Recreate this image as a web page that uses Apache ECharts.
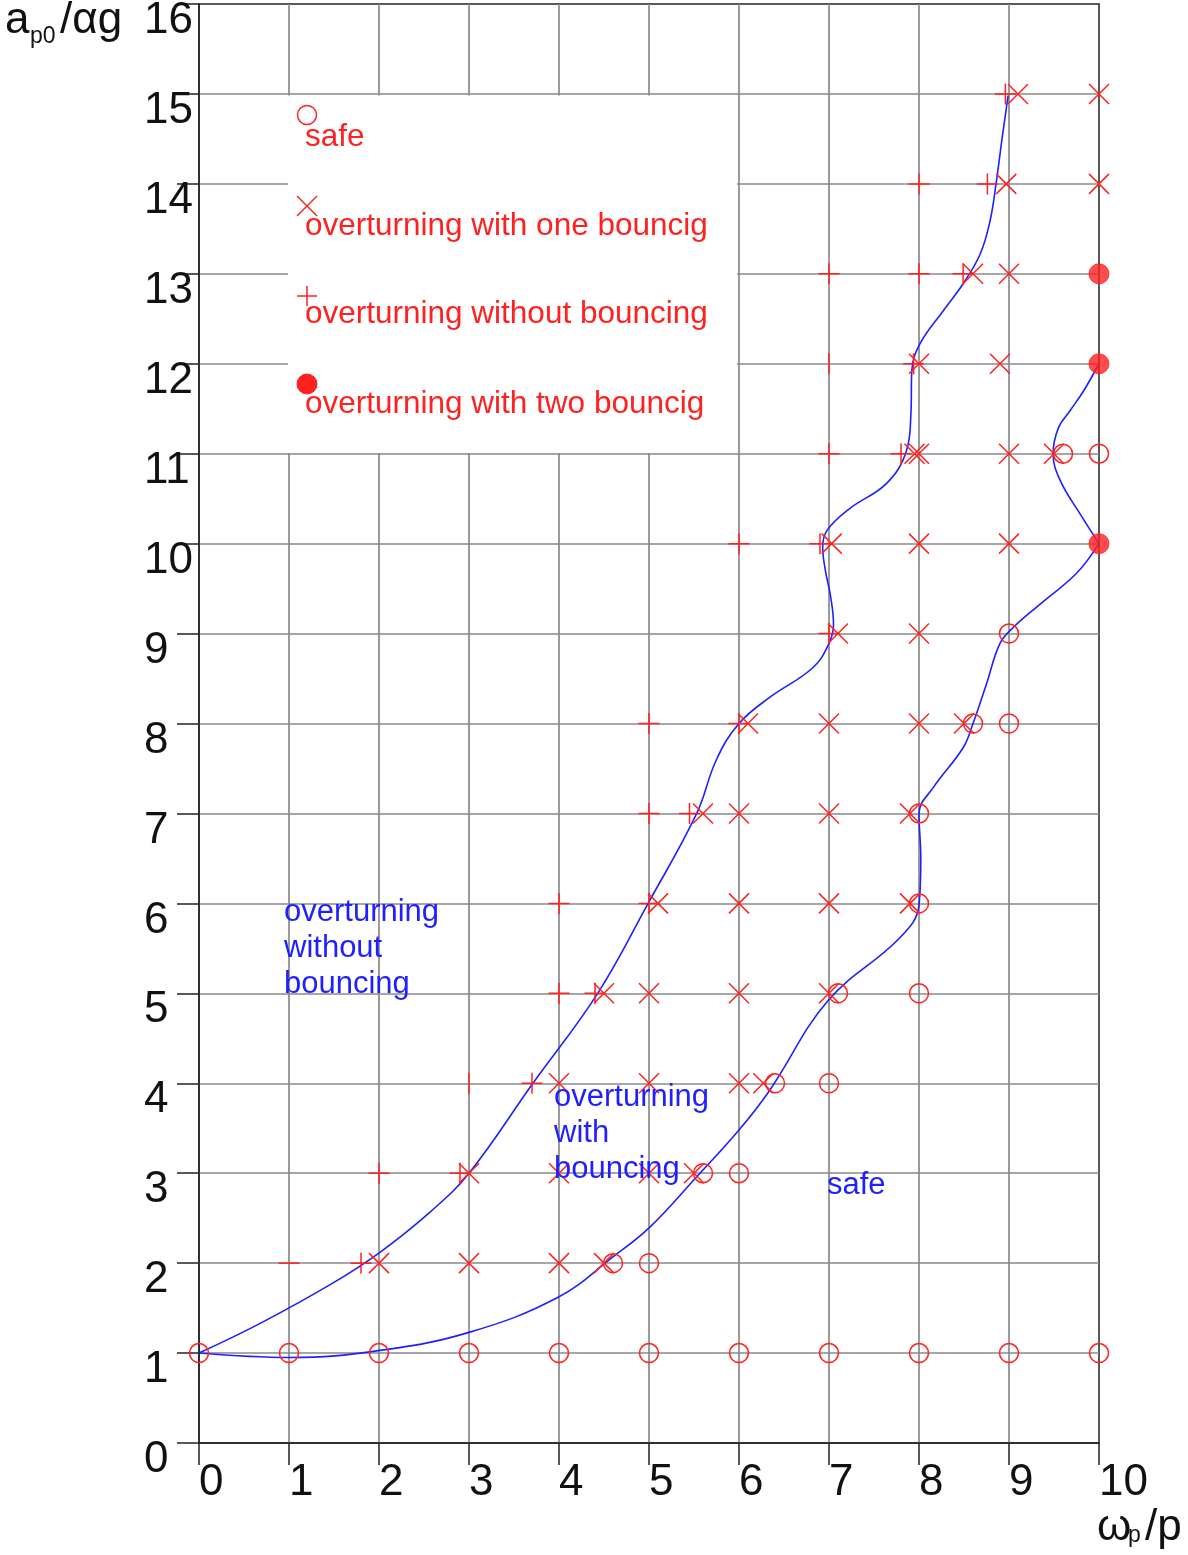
<!DOCTYPE html>
<html>
<head>
<meta charset="utf-8">
<script src="https://cdn.jsdelivr.net/npm/echarts@6/dist/echarts.min.js"></script>
<style>
  html, body { margin: 0; padding: 0; background: #ffffff; }
  #chart { width: 1188px; height: 1555px; }
</style>
</head>
<body>
<div id="chart"></div>
<script>
// Test outcomes on the (ωp/p, ap0/αg) plane
const safePoints = [
  [0, 1], [1, 1], [2, 1], [3, 1], [4, 1], [5, 1], [6, 1], [7, 1], [8, 1], [9, 1], [10, 1],
  [4.6, 2], [5, 2],
  [5.6, 3], [6, 3],
  [6.4, 4], [7, 4],
  [7.1, 5], [8, 5],
  [8, 6],
  [8, 7],
  [8.6, 8], [9, 8],
  [9, 9],
  [9.6, 11], [10, 11]
];

const oneBouncePoints = [
  [2, 2], [3, 2], [4, 2], [4.5, 2],
  [3, 3], [4, 3], [5, 3], [5.5, 3],
  [4, 4], [5, 4], [6, 4], [6.27, 4],
  [4.5, 5], [5, 5], [6, 5], [7, 5],
  [5.1, 6], [6, 6], [7, 6], [7.9, 6],
  [5.6, 7], [6, 7], [7, 7], [7.9, 7],
  [6.1, 8], [7, 8], [8, 8], [8.5, 8],
  [7.1, 9], [8, 9],
  [7.03, 10], [8, 10], [9, 10],
  [7.95, 11], [8, 11], [9, 11], [9.5, 11],
  [8, 12], [8.9, 12],
  [8.6, 13], [9, 13],
  [8.97, 14], [10, 14],
  [9.1, 15], [10, 15]
];

const noBouncePoints = [
  [1.8, 2],
  [2, 3], [2.9, 3],
  [3.7, 4],
  [4, 5], [4.4, 5],
  [4, 6], [5, 6],
  [5, 7], [5.45, 7],
  [5, 8], [6, 8],
  [7, 9],
  [6, 10], [6.9, 10],
  [7, 11], [7.8, 11],
  [7.94, 12],
  [7, 13], [8, 13], [8.49, 13],
  [8, 14], [8.76, 14],
  [8.96, 15]
];

// no-bounce marks whose other stroke sits under a grid line
const noBounceDashPoints = [[1, 2]];
const noBounceBarPoints = [[3, 4], [7, 12]];

const twoBouncePoints = [
  [10, 10], [10, 12], [10, 13]
];

// Boundary between overturning without bouncing and overturning with bouncing
const boundaryNoBounce = [
  [0, 1], [0.68, 1.33], [1.49, 1.78], [2.01, 2.12], [2.57, 2.57], [3.0, 3.0],
  [3.71, 4.0], [4.43, 5.0], [4.99, 6.0], [5.53, 7.0], [5.75, 7.6], [6.0, 8.0],
  [6.34, 8.29], [6.82, 8.62], [7.0, 8.89], [7.05, 9.1], [7.02, 9.4], [6.96, 9.7],
  [6.93, 9.96], [6.98, 10.15], [7.23, 10.39], [7.64, 10.67], [7.86, 11.03],
  [7.91, 11.44], [7.92, 11.92], [8.01, 12.22], [8.27, 12.59], [8.49, 12.89],
  [8.68, 13.22], [8.79, 13.59], [8.86, 14.03], [8.92, 14.48], [8.99, 14.98]
];

// Boundary between overturning with bouncing and safe
const boundarySafe = [
  [0, 1], [1.01, 0.95], [2.01, 1.03], [3.0, 1.23], [3.99, 1.62], [4.6, 2.07],
  [5.01, 2.4], [5.53, 2.96], [6.0, 3.48], [6.34, 3.92], [6.99, 4.92],
  [7.79, 5.62], [8.0, 5.98], [8.02, 6.5], [8.0, 7.0], [8.16, 7.29], [8.49, 7.73],
  [8.6, 8.0], [8.75, 8.44], [8.9, 8.89], [9.05, 9.07], [9.35, 9.33], [9.75, 9.67],
  [10, 10]
];

// Boundary of the safe pocket between the two-bounce points
const boundaryPocket = [
  [10, 10], [9.79, 10.33], [9.57, 10.7], [9.49, 11.0], [9.55, 11.29],
  [9.68, 11.48], [9.83, 11.7], [10, 12]
];

const legendNames = [
  'safe',
  'overturning with one bouncig',
  'overturning without bouncing',
  'overturning with two bouncig'
];

const RED = '#ff2020';
const BLUE = '#1f1fff';
const FONT = '"Liberation Sans", Arial, sans-serif';
const CROSS = 'path://M0,0L20,20M20,0L0,20';
const PLUS = 'path://M10,0L10,20M0,10L20,10';
// moveTo corners keep the symbol box square
const DASH = 'path://M10,0M10,20M0,10L20,10';
const BAR = 'path://M0,10M20,10M10,0L10,20';

const chart = echarts.init(document.getElementById('chart'));

function strokeStyle() {
  return { color: 'none', borderColor: RED, borderWidth: 1.5, opacity: 1 };
}

function curve(name, data) {
  return {
    name: name, type: 'line', data: data,
    smooth: 0.4, symbol: 'none', z: 3,
    lineStyle: { color: BLUE, width: 1.6 }
  };
}

function marks(name, data, symbol, size) {
  return {
    name: name, type: 'scatter', data: data,
    symbol: symbol, symbolSize: size, symbolKeepAspect: false, z: 4,
    itemStyle: strokeStyle()
  };
}

const option = {
  backgroundColor: '#ffffff',
  animation: false,
  grid: {
    left: 199, right: 89, top: 4, bottom: 112,
    show: true, borderColor: '#222', borderWidth: 1.5,
    containLabel: false, outerBoundsMode: 'none'
  },
  xAxis: {
    type: 'value', min: 0, max: 10, interval: 1,
    axisLine: { show: true, onZero: false, lineStyle: { color: '#222', width: 1.5 } },
    axisTick: { show: true, inside: false, length: 22, lineStyle: { color: '#222', width: 1.5 } },
    axisLabel: {
      fontSize: 44, fontFamily: FONT, color: '#111', align: 'left',
      verticalAlign: 'top', lineHeight: 34, margin: 23, hideOverlap: false
    },
    splitLine: { show: true, showMinLine: false, showMaxLine: false, lineStyle: { color: '#8a8a8a', width: 1.7 } }
  },
  yAxis: {
    type: 'value', min: 0, max: 16, interval: 1,
    axisLine: { show: true, onZero: false, lineStyle: { color: '#222', width: 1.5 } },
    axisTick: { show: true, inside: false, length: 22, lineStyle: { color: '#222', width: 1.5 } },
    axisLabel: {
      fontSize: 44, fontFamily: FONT, color: '#111', align: 'left',
      verticalAlign: 'top', lineHeight: 34, margin: 55, hideOverlap: false
    },
    splitLine: { show: true, showMinLine: false, showMaxLine: false, lineStyle: { color: '#8a8a8a', width: 1.7 } }
  },
  series: [
    curve('boundary-no-bounce', boundaryNoBounce),
    curve('boundary-safe', boundarySafe),
    curve('boundary-pocket', boundaryPocket),
    marks(legendNames[0], safePoints, 'circle', 19),
    marks(legendNames[1], oneBouncePoints, CROSS, 20),
    marks(legendNames[2], noBouncePoints, PLUS, 21),
    marks(legendNames[2], noBounceDashPoints, DASH, 21),
    marks(legendNames[2], noBounceBarPoints, BAR, 21),
    {
      name: legendNames[3], type: 'scatter', data: twoBouncePoints,
      symbol: 'circle', symbolSize: 20, z: 4,
      itemStyle: { color: RED, borderColor: RED, borderWidth: 1 }
    }
  ],
  graphic: [
    // axis titles
    { type: 'text', x: 5, y: 4, z: 100, style: { text: 'a', fontSize: 44, fontFamily: FONT, fill: '#111', verticalAlign: 'top', lineHeight: 34 } },
    { type: 'text', x: 30, y: 26, z: 100, style: { text: 'p0', fontSize: 23, fontFamily: FONT, fill: '#111', verticalAlign: 'top', lineHeight: 22 } },
    { type: 'text', x: 60, y: 4, z: 100, style: { text: '/αg', fontSize: 44, fontFamily: FONT, fill: '#111', verticalAlign: 'top', lineHeight: 34 } },
    { type: 'text', x: 1097, y: 1511, z: 100, style: { text: 'ω', fontSize: 44, fontFamily: FONT, fill: '#111', verticalAlign: 'top', lineHeight: 34 } },
    { type: 'text', x: 1128, y: 1525, z: 100, style: { text: 'p', fontSize: 23, fontFamily: FONT, fill: '#111', verticalAlign: 'top', lineHeight: 22 } },
    { type: 'text', x: 1145, y: 1511, z: 100, style: { text: '/p', fontSize: 44, fontFamily: FONT, fill: '#111', verticalAlign: 'top', lineHeight: 34 } },

    // region annotations
    { type: 'text', x: 284, y: 894, z: 100, style: { text: 'overturning\nwithout\nbouncing', fontSize: 31, fontFamily: FONT, fill: BLUE, verticalAlign: 'top', lineHeight: 36 } },
    { type: 'text', x: 554, y: 1079, z: 100, style: { text: 'overturning\nwith\nbouncing', fontSize: 31, fontFamily: FONT, fill: BLUE, verticalAlign: 'top', lineHeight: 36 } },
    { type: 'text', x: 827, y: 1167, z: 100, style: { text: 'safe', fontSize: 31, fontFamily: FONT, fill: BLUE, verticalAlign: 'top', lineHeight: 36 } },

    // legend box
    { type: 'rect', z: 100, shape: { x: 288, y: 95.5, width: 449, height: 357.5 }, style: { fill: '#ffffff', stroke: 'none' } },
    { type: 'circle', z: 101, shape: { cx: 307, cy: 115, r: 9.5 }, style: { fill: 'none', stroke: RED, lineWidth: 1.5 } },
    { type: 'line', z: 101, shape: { x1: 297, y1: 196, x2: 317, y2: 216 }, style: { stroke: RED, lineWidth: 1.5 } },
    { type: 'line', z: 101, shape: { x1: 317, y1: 196, x2: 297, y2: 216 }, style: { stroke: RED, lineWidth: 1.5 } },
    { type: 'line', z: 101, shape: { x1: 307, y1: 286, x2: 307, y2: 306 }, style: { stroke: RED, lineWidth: 1.5 } },
    { type: 'line', z: 101, shape: { x1: 297, y1: 296, x2: 317, y2: 296 }, style: { stroke: RED, lineWidth: 1.5 } },
    { type: 'circle', z: 101, shape: { cx: 307, cy: 384, r: 10 }, style: { fill: RED, stroke: RED, lineWidth: 1 } },
    { type: 'text', x: 305, y: 119, z: 101, style: { text: legendNames[0], fontSize: 31.5, fontFamily: FONT, fill: RED, verticalAlign: 'top', lineHeight: 36 } },
    { type: 'text', x: 305, y: 208, z: 101, style: { text: legendNames[1], fontSize: 31.5, fontFamily: FONT, fill: RED, verticalAlign: 'top', lineHeight: 36 } },
    { type: 'text', x: 305, y: 296, z: 101, style: { text: legendNames[2], fontSize: 31.5, fontFamily: FONT, fill: RED, verticalAlign: 'top', lineHeight: 36 } },
    { type: 'text', x: 305, y: 386, z: 101, style: { text: legendNames[3], fontSize: 31.5, fontFamily: FONT, fill: RED, verticalAlign: 'top', lineHeight: 36 } }
  ]
};

chart.setOption(option);
</script>
</body>
</html>
